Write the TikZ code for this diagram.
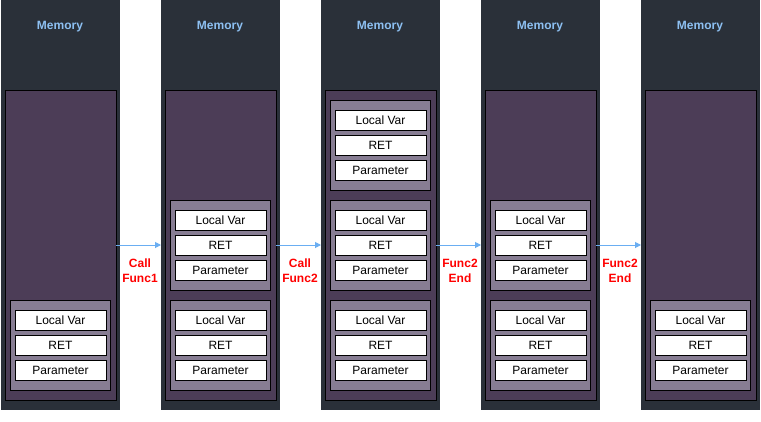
\documentclass[tikz,border=0pt]{standalone}
\usepackage{fontspec}
\setmainfont{Liberation Sans}
\usetikzlibrary{arrows.meta}
\definecolor{outerc}{HTML}{2A3039}
\definecolor{innerc}{HTML}{4C3D57}
\definecolor{framec}{HTML}{877D93}
\definecolor{memc}{HTML}{8DC0F2}
\definecolor{arrc}{HTML}{6AAEF2}
\definecolor{labc}{HTML}{FF0000}
\tikzset{
  outerbox/.style={fill=outerc, draw=none, inner sep=0pt, outer sep=0pt, minimum width=119pt, minimum height=410pt, anchor=north west},
  innerbox/.style={fill=innerc, draw=black, line width=1pt, inner sep=0pt, outer sep=0pt, minimum width=111pt, minimum height=310pt, anchor=north west},
  framebox/.style={fill=framec, draw=black, line width=1pt, inner sep=0pt, outer sep=0pt, minimum width=100pt, minimum height=90pt, anchor=north west},
  entry/.style={fill=white, draw=black, line width=1pt, inner sep=0pt, outer sep=0pt, minimum width=91pt, minimum height=20pt, anchor=north west, font=\fontsize{12}{14}\selectfont},
  memlabel/.style={text=memc, font=\fontsize{12}{14}\selectfont\bfseries, inner sep=0pt},
  flow/.style={draw=arrc, line width=1pt, -{Triangle[length=6pt,width=6pt]}},
  steplabel/.style={text=labc, font=\fontsize{12}{15}\selectfont\bfseries, align=center, inner sep=0pt}
}
\begin{document}
\begin{tikzpicture}[x=1pt,y=-1pt]
\useasboundingbox[fill=white] (0,0) rectangle (761,421);
\foreach \c/\xx/\frames in {1/0/{300},2/160/{200,300},3/320/{100,200,300},4/480/{200,300},5/640/{300}}{
  \node[outerbox] (o\c) at (\xx+1,0) {};
  \node[memlabel] (m\c) at (\xx+60,27) {Memory};
  \node[innerbox] (i\c) at (\xx+5,90) {};
  \foreach \fy in \frames {
    \node[framebox] (f\c-\fy) at (\xx+10,\fy) {};
    \node[entry] (lv\c-\fy) at (\xx+15,\fy+10) {Local Var};
    \node[entry] (rt\c-\fy) at (\xx+15,\fy+35) {RET};
    \node[entry] (pa\c-\fy) at (\xx+15,\fy+60) {Parameter};
  }
}
\foreach \a/\b in {1/2,2/3,3/4,4/5}{
  \draw[flow] (i\a.east) -- (i\a.east -| o\b.west);
}
\node[steplabel] (s1) at (140,270.5) {Call\\Func1};
\node[steplabel] (s2) at (300,270.5) {Call\\Func2};
\node[steplabel] (s3) at (460,270.5) {Func2\\End};
\node[steplabel] (s4) at (620,270.5) {Func2\\End};
\end{tikzpicture}
\end{document}
